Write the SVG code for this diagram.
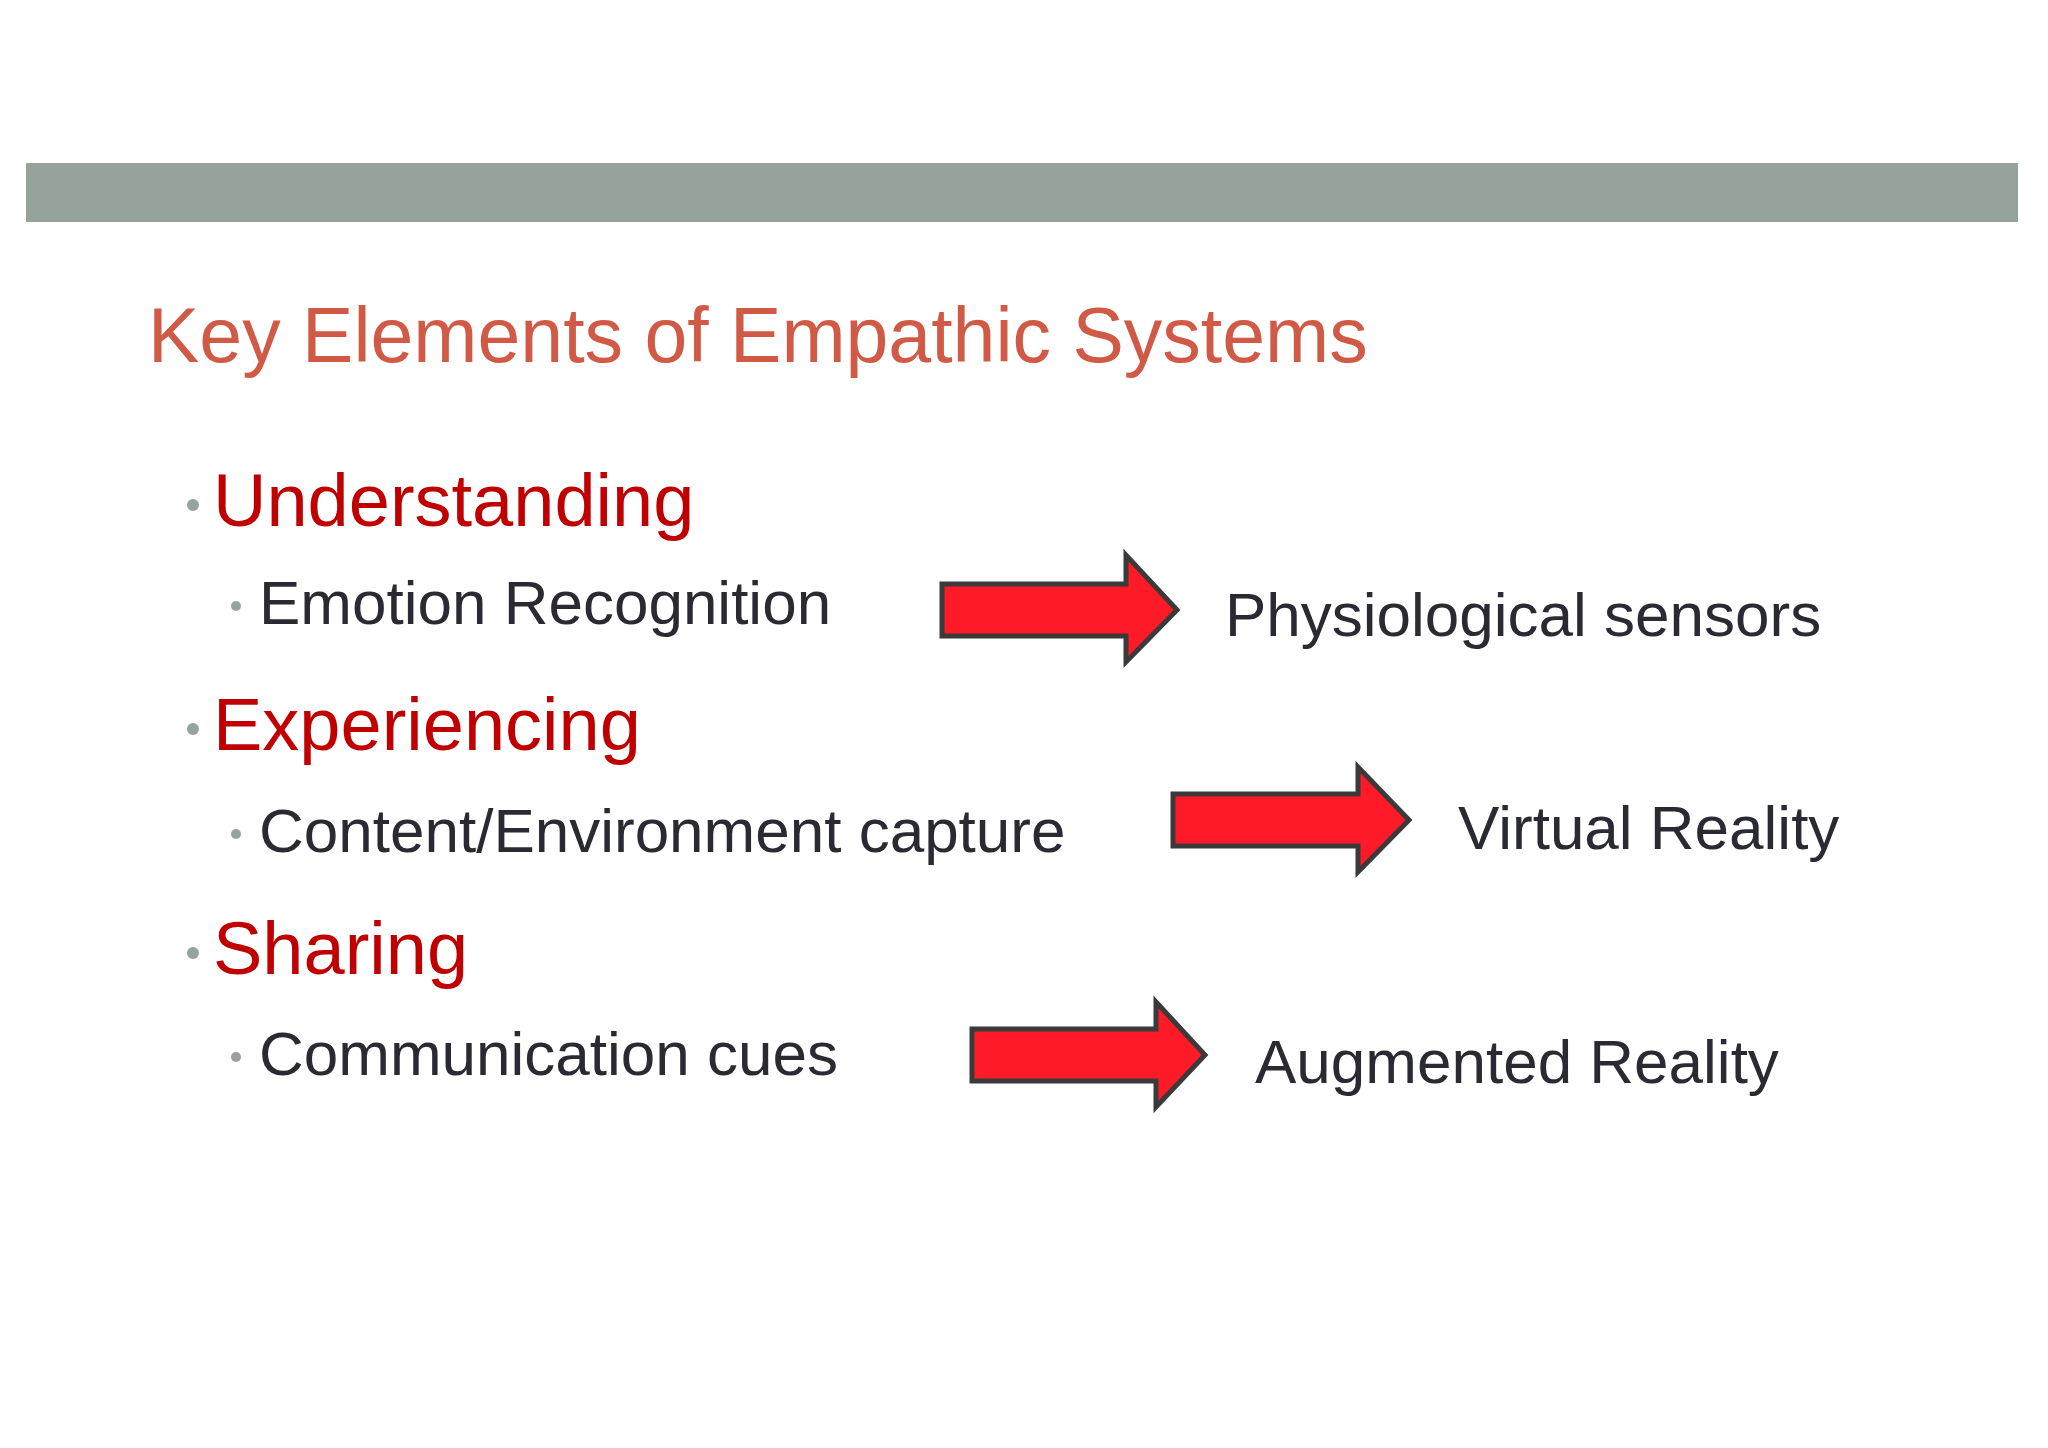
<svg xmlns="http://www.w3.org/2000/svg" width="2048" height="1448" viewBox="0 0 2048 1448">
<style>
text{font-family:"Liberation Sans",Arial,sans-serif}
.h{fill:#C00000;font-size:74px}
.s{fill:#2A2A33;font-size:62px}
.d{fill:#95A39A}
.arrow{fill:#FF1A27;stroke:#3A3A3A;stroke-width:5}
</style>
<rect width="2048" height="1448" fill="#fff"/>
<rect x="26" y="163" width="1992" height="59" fill="#95A39A"/>
<text x="148" y="362" fill="#D05A45" font-size="77">Key Elements of Empathic Systems</text>
<g id="understanding"><circle class="d" cx="193" cy="505" r="6"/><text class="h" x="213" y="526">Understanding</text></g>
<g id="emotion"><circle class="d" cx="236" cy="606" r="5"/><text class="s" x="259" y="624">Emotion Recognition</text></g>
<g id="experiencing"><circle class="d" cx="193" cy="729" r="6"/><text class="h" x="213" y="750">Experiencing</text></g>
<g id="content"><circle class="d" cx="236" cy="834" r="5"/><text class="s" x="259" y="852">Content/Environment capture</text></g>
<g id="sharing"><circle class="d" cx="193" cy="953" r="6"/><text class="h" x="213" y="974">Sharing</text></g>
<g id="communication"><circle class="d" cx="236" cy="1057" r="5"/><text class="s" x="259" y="1075">Communication cues</text></g>
<g id="physio"><text class="s" x="1225" y="636">Physiological sensors</text></g>
<g id="vr"><text class="s" x="1458" y="849">Virtual Reality</text></g>
<g id="ar"><text class="s" x="1255" y="1083">Augmented Reality</text></g>
<g id="connectors">
<path class="arrow" d="M942 584H1126V555L1177 610L1126 662V636H942Z"/>
<path class="arrow" d="M1173 794H1358V767L1409 820L1358 872V846H1173Z"/>
<path class="arrow" d="M972 1029H1156V1002L1205 1055L1156 1107V1081H972Z"/>
</g>
</svg>
